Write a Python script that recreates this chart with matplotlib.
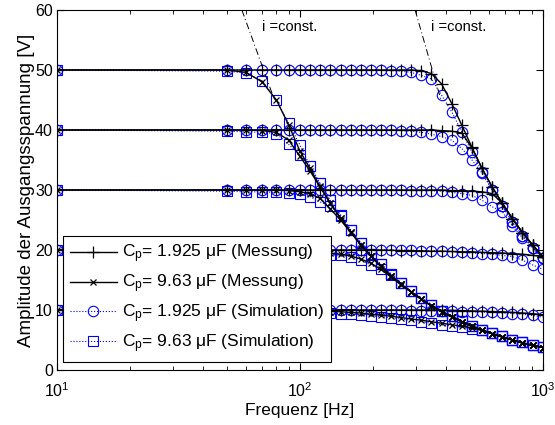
import numpy as np
import matplotlib
matplotlib.use('Agg')
import matplotlib.pyplot as plt

# -------------------------
# Daten
# -------------------------
freq = [10, 50, 60, 70, 80, 90, 100, 110, 121, 133, 147, 162, 178, 196, 215, 237,
        261, 287, 316, 348, 383, 422, 464, 511, 562, 619, 681, 750, 825, 909, 1000]

# Cp = 1.925 uF, Messung (+)
m1925_50 = [50, 50, 50, 50, 50, 50, 50, 50, 50, 50, 50, 50, 50, 50, 50, 50,
            50, 50, 49.9, 49.4, 47.7, 44.4, 40.8, 37.1, 33.6, 30.5, 27.8, 25.2, 22.9, 20.8, 18.9]
m1925_40 = [40, 40, 40, 40, 40, 40, 40, 40, 40, 40, 40, 40, 40, 40, 40, 40,
            40, 40, 40, 40, 39.9, 39.8, 39.5, 37.0, 33.6, 30.5, 27.8, 25.2, 22.9, 20.8, 18.9]
m1925_30 = [30, 30, 30, 30, 30, 30, 30, 30, 30, 30, 30, 30, 30, 30, 30, 30,
            30, 30, 30, 30, 30, 29.9, 29.9, 29.8, 29.7, 29.4, 27.8, 25.2, 22.9, 20.8, 18.9]
m1925_20 = [20, 20, 20, 20, 20, 20, 20, 20, 20, 20, 20, 20, 20, 20, 20, 19.95,
            19.9, 19.9, 19.85, 19.8, 19.8, 19.75, 19.7, 19.7, 19.6, 19.55, 19.5, 19.4, 19.3, 19.1, 18.9]
m1925_10 = [10, 10, 10, 10, 10, 10, 10, 10, 10, 10, 10, 10, 10, 10, 10, 10,
            10, 10, 10, 10, 9.95, 9.95, 9.9, 9.85, 9.8, 9.75, 9.7, 9.6, 9.5, 9.4, 9.2]

# Cp = 9.63 uF, Messung (x)
m963_50 = [50, 50, 49.6, 48.0, 45.0, 40.8, 36.5, 33.6, 30.6, 27.9, 25.3, 23.0, 20.9, 19.0, 17.3, 15.7,
           14.3, 13.0, 11.8, 10.7, 9.7, 8.85, 8.05, 7.3, 6.65, 6.05, 5.5, 5.0, 4.5, 4.1, 3.75]
m963_40 = [40, 40, 40, 39.9, 39.6, 38.3, 35.6, 33.2, 30.5, 27.9, 25.3, 23.0, 20.9, 19.0, 17.3, 15.7,
           14.3, 13.0, 11.8, 10.7, 9.7, 8.85, 8.05, 7.3, 6.65, 6.05, 5.5, 5.0, 4.5, 4.1, 3.75]
m963_30 = [30, 30, 30, 30, 30, 29.9, 29.7, 29.4, 28.6, 26.9, 25.0, 22.9, 20.9, 19.0, 17.3, 15.7,
           14.3, 13.0, 11.8, 10.7, 9.7, 8.85, 8.05, 7.3, 6.65, 6.05, 5.5, 5.0, 4.5, 4.1, 3.75]
m963_20 = [20, 20, 20, 20, 20, 20, 19.9, 19.8, 19.7, 19.5, 19.3, 19.0, 18.5, 17.8, 16.8, 15.5,
           14.2, 13.0, 11.8, 10.7, 9.7, 8.85, 8.05, 7.3, 6.65, 6.05, 5.5, 5.0, 4.5, 4.1, 3.75]
m963_10 = [10, 10, 10, 10, 9.95, 9.95, 9.9, 9.85, 9.8, 9.75, 9.7, 9.6, 9.5, 9.3, 9.15, 8.95,
           8.75, 8.5, 8.3, 8.05, 7.8, 7.55, 7.3, 7.0, 6.6, 6.05, 5.5, 5.0, 4.5, 4.1, 3.75]

# Cp = 1.925 uF, Simulation (o)
s1925_50 = [50, 50, 50, 50, 50, 50, 50, 50, 50, 50, 50, 50, 50, 50, 50, 49.9,
            49.8, 49.6, 49.1, 48.5, 45.8, 43.0, 39.7, 36.3, 33.0, 30.0, 27.4, 24.6, 22.4, 20.4, 18.6]
s1925_40 = [40, 40, 40, 40, 40, 40, 40, 40, 40, 40, 40, 40, 40, 40, 40, 40,
            39.9, 39.8, 39.6, 39.3, 38.9, 38.3, 36.9, 35.0, 32.8, 30.0, 27.4, 24.6, 22.4, 20.4, 18.6]
s1925_30 = [30, 30, 30, 30, 30, 30, 30, 30, 30, 30, 30, 30, 30, 30, 30, 30,
            30, 29.9, 29.9, 29.9, 29.8, 29.6, 29.4, 29.1, 28.3, 27.2, 26.4, 24.0, 22.0, 20.3, 18.7]
s1925_20 = [20, 20, 20, 20, 20, 20, 20, 20, 20, 20, 20, 20, 20, 20, 20, 20,
            20, 20, 19.9, 19.9, 19.8, 19.7, 19.6, 19.5, 19.4, 19.3, 19.1, 18.9, 18.3, 17.5, 16.8]
s1925_10 = [10, 10, 10, 10, 10, 10, 10, 10, 10, 10, 10, 10, 10, 10, 10, 10,
            10, 9.9, 9.9, 9.85, 9.85, 9.8, 9.75, 9.7, 9.65, 9.6, 9.5, 9.4, 9.3, 9.1, 8.8]

# Cp = 9.63 uF, Simulation (Quadrat)
s963_50 = [50, 49.8, 49.5, 48.2, 45.0, 41.1, 37.5, 34.0, 31.1, 28.3, 25.8, 23.3, 21.2, 19.3, 17.6, 16.0,
           14.5, 13.1, 12.0, 10.9, 9.9, 9.0, 8.2, 7.4, 6.75, 6.15, 5.6, 5.05, 4.6, 4.15, 3.8]
s963_40 = [40, 39.8, 39.7, 39.6, 39.4, 37.6, 35.8, 34.0, 31.1, 28.3, 25.8, 23.3, 21.2, 19.3, 17.6, 16.0,
           14.5, 13.1, 12.0, 10.9, 9.9, 9.0, 8.2, 7.4, 6.75, 6.15, 5.6, 5.05, 4.6, 4.15, 3.8]
s963_30 = [30, 29.8, 29.7, 29.7, 29.6, 29.5, 29.3, 28.9, 28.0, 27.4, 25.6, 23.3, 21.2, 19.3, 17.6, 16.0,
           14.5, 13.1, 12.0, 10.9, 9.9, 9.0, 8.2, 7.4, 6.75, 6.15, 5.6, 5.05, 4.6, 4.15, 3.8]
s963_20 = [20, 19.8, 19.8, 19.7, 19.7, 19.6, 19.5, 19.4, 19.3, 19.2, 19.1, 18.9, 18.4, 17.5, 16.8, 15.9,
           14.5, 13.1, 12.0, 10.9, 9.9, 9.0, 8.2, 7.4, 6.75, 6.15, 5.6, 5.05, 4.6, 4.15, 3.8]
s963_10 = [10, 9.8, 9.8, 9.8, 9.75, 9.7, 9.65, 9.6, 9.55, 9.5, 9.4, 9.3, 9.2, 9.05, 8.9, 8.7,
           8.5, 8.3, 8.05, 7.8, 7.55, 7.3, 7.1, 6.9, 6.6, 6.15, 5.6, 5.05, 4.6, 4.15, 3.8]

# i = const. Hilfslinien
iconst1_f = [57.7, 78.6]
iconst2_f = [298, 381]
iconst_u = [60, 45]

m1925 = [m1925_50, m1925_40, m1925_30, m1925_20, m1925_10]
m963 = [m963_50, m963_40, m963_30, m963_20, m963_10]
s1925 = [s1925_50, s1925_40, s1925_30, s1925_20, s1925_10]
s963 = [s963_50, s963_40, s963_30, s963_20, s963_10]

# -------------------------
# Plot
# -------------------------
plt.rcParams['font.family'] = ['Liberation Sans', 'DejaVu Sans']
plt.rcParams['mathtext.fontset'] = 'custom'
plt.rcParams['mathtext.rm'] = 'Liberation Sans'
plt.rcParams['mathtext.it'] = 'Liberation Sans'

fig = plt.figure(figsize=(5.55, 4.25), dpi=100)
ax = fig.add_axes([0.1027, 0.1294, 0.8753, 0.8471])

blue = '#0000ff'
h = {}
for k in range(5):
    h['s1925'], = ax.plot(freq, s1925[k], ':', color=blue, lw=0.8, marker='o', ms=7.5,
                          mfc='none', mec=blue, mew=0.8)
    h['s963'], = ax.plot(freq, s963[k], ':', color=blue, lw=0.8, marker='s', ms=6.5,
                         mfc='none', mec=blue, mew=0.8)
for k in range(5):
    h['m1925'], = ax.plot(freq, m1925[k], '-', color='k', lw=1.0, marker='+', ms=8, mew=0.9)
    h['m963'], = ax.plot(freq, m963[k], '-', color='k', lw=1.0, marker='x', ms=5, mew=0.9)

ax.plot(iconst1_f, iconst_u, color='k', lw=0.7, ls=(0, (7, 3, 1, 3)))
ax.plot(iconst2_f, iconst_u, color='k', lw=0.7, ls=(0, (7, 3, 1, 3)))
ax.text(69.5, 57.2, 'i =const.', fontsize=10.5, va='center', ha='left')
ax.text(345, 57.2, 'i =const.', fontsize=10.5, va='center', ha='left')

ax.set_xscale('log')
ax.set_xlim(10, 1000)
ax.set_ylim(0, 60)
ax.set_yticks([0, 10, 20, 30, 40, 50, 60])
ax.tick_params(which='both', direction='in', top=True, right=True, labelsize=11.5)
ax.tick_params(which='major', length=5)
ax.tick_params(which='minor', length=3)
ax.tick_params(axis='x', pad=8)
ax.tick_params(axis='y', pad=3)
ax.set_xlabel('Frequenz [Hz]', fontsize=12.5, labelpad=2)
ax.set_ylabel('Amplitude der Ausgangsspannung [V]', fontsize=13.5, labelpad=0)

labels = [r'C$_\mathregular{p}$= 1.925 $\mathregular{\mu}$F (Messung)',
          r'C$_\mathregular{p}$= 9.63 $\mathregular{\mu}$F (Messung)',
          r'C$_\mathregular{p}$= 1.925 $\mathregular{\mu}$F (Simulation)',
          r'C$_\mathregular{p}$= 9.63 $\mathregular{\mu}$F (Simulation)']
leg = ax.legend([h['m1925'], h['m963'], h['s1925'], h['s963']], labels,
                loc='lower left', bbox_to_anchor=(0.012, 0.022), borderaxespad=0,
                fontsize=12.5, fancybox=False, framealpha=1, edgecolor='k',
                handlelength=2.7, handletextpad=0.3, labelspacing=0.42, borderpad=0.4)
leg.get_frame().set_linewidth(0.8)

plt.savefig('out.png', dpi=100)
plt.close()
